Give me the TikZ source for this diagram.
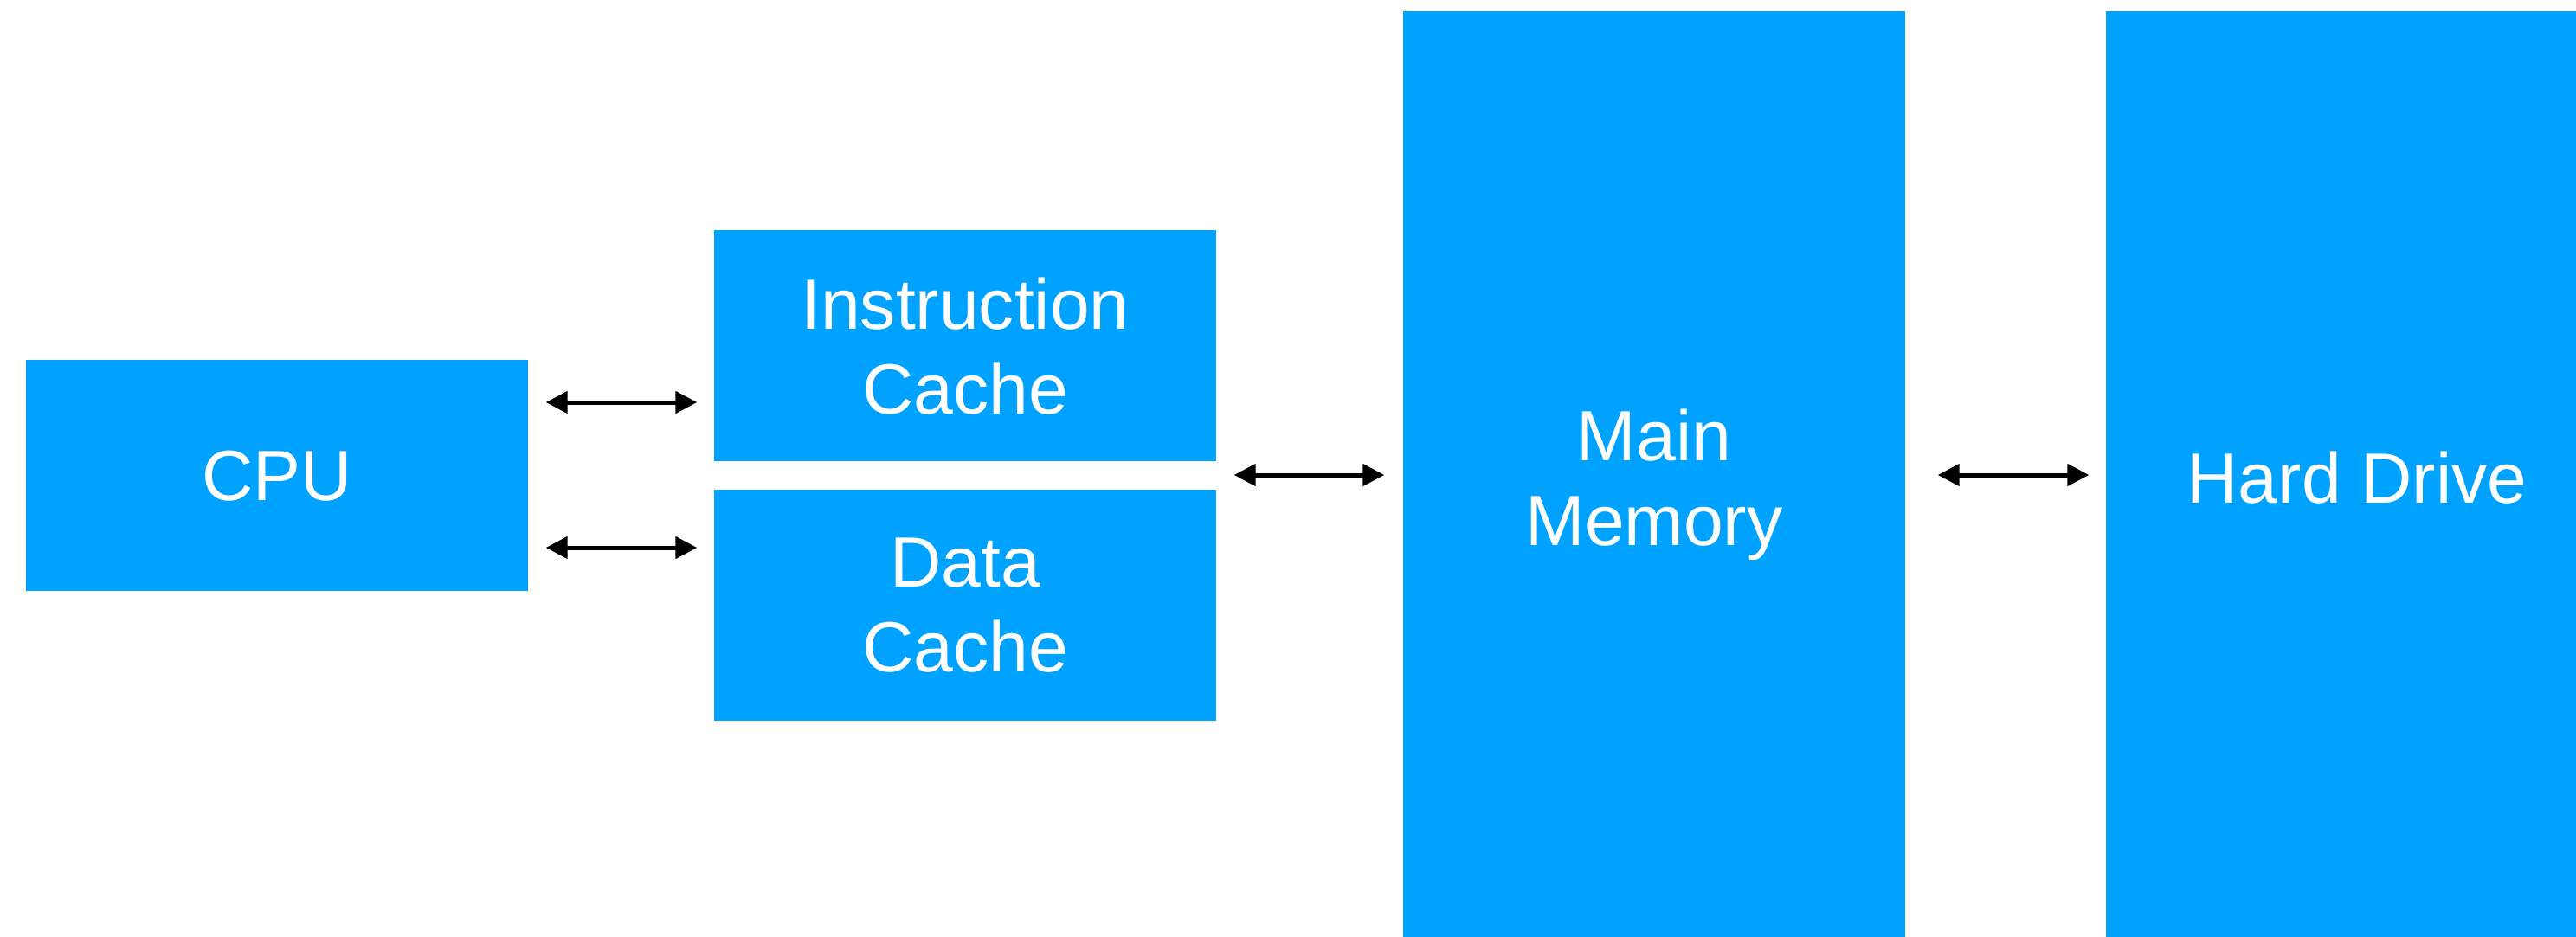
\documentclass[tikz,border=0pt]{standalone}
\usepackage{fontspec}
\setmainfont{Liberation Sans}
\usetikzlibrary{arrows.meta}
\definecolor{boxblue}{RGB}{0,162,255}
\tikzset{
  blk/.style={rectangle, fill=boxblue, draw=none, inner sep=0pt, text=white,
    align=center, text depth=0pt, minimum width=5.8cm, minimum height=2.67cm,
    font=\fontsize{23.4pt}{27.9pt}\selectfont},
  biarrow/.style={line width=0.05cm, {Triangle[length=0.25cm,width=0.25cm]}-{Triangle[length=0.25cm,width=0.25cm]}}
}
\begin{document}
\begin{tikzpicture}
\useasboundingbox (0,0) rectangle (29.76,-10.82);
\clip (0,0) rectangle (29.76,-10.82);
\node[blk] (cpu) at (3.20,-5.495) {CPU};
\node[blk] (ic) at (11.15,-3.995) {Instruction\\Cache};
\node[blk] (dc) at (11.15,-6.995) {Data\\Cache};
\node[blk, minimum height=10.77cm] (mm) at (19.11,-5.515) {Main\\Memory};
\node[blk, minimum height=10.77cm] (hd) at (27.23,-5.515) {Hard Drive};
\coordinate (yA) at (0,-4.65);
\coordinate (yB) at (0,-6.33);
\coordinate (yM) at (0,-5.49);
\draw[biarrow, shorten <=0.2cm, shorten >=0.19cm] (cpu.east |- yA) -- (ic.west |- yA);
\draw[biarrow, shorten <=0.2cm, shorten >=0.19cm] (cpu.east |- yB) -- (dc.west |- yB);
\draw[biarrow, shorten <=0.2cm, shorten >=0.21cm] (ic.east |- yM) -- (mm.west |- yM);
\draw[biarrow, shorten <=0.37cm, shorten >=0.19cm] (mm.east |- yM) -- (hd.west |- yM);
\end{tikzpicture}
\end{document}
